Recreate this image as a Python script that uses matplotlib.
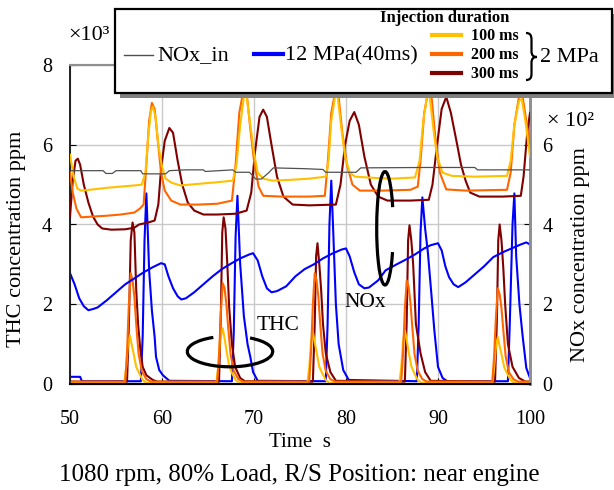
import matplotlib
matplotlib.use("Agg")
import matplotlib.pyplot as plt
from matplotlib.patches import Rectangle, Arc, PathPatch
from matplotlib.path import Path
from matplotlib.lines import Line2D

plt.rcParams['font.family'] = ['Liberation Serif', 'DejaVu Serif']

# ---------------- data ----------------
# NOx inlet (right axis, x10^2 ppm)
nox_in_t = [50, 53.6, 53.9, 54.6, 55.0, 57.7, 57.9, 60.4, 60.8, 62.6, 64.5, 64.7, 67.7, 68.0,
            69.5, 70.2, 70.8, 71.6, 72.1, 75.5, 77.5, 77.8, 81.1, 81.6, 88.5, 94.0, 94.3, 100]
nox_in_v = [5.35, 5.35, 5.28, 5.28, 5.35, 5.35, 5.27, 5.27, 5.35, 5.37, 5.37, 5.33, 5.37, 5.31,
            5.31, 5.14, 5.14, 5.30, 5.42, 5.40, 5.38, 5.31, 5.31, 5.42, 5.43, 5.43, 5.37, 5.37]

# NOx, 2 MPa 100 ms
nox100_t = [50.0, 50.4, 50.8, 51.2, 52.5, 54.0, 55.5, 57.0, 57.8, 58.2, 58.5, 58.8, 59.0, 59.3,
            59.6, 60.0, 60.4, 61.0, 62.0, 64.0, 66.0, 67.7, 68.1, 68.5, 68.9, 69.2, 69.6, 70.0,
            70.4, 71.0, 72.0, 74.0, 76.0, 77.8, 78.1, 78.4, 78.8, 79.1, 79.5, 79.9, 80.4, 81.0,
            83.0, 85.0, 87.5, 88.0, 88.4, 88.8, 89.1, 89.5, 89.9, 90.5, 91.5, 94.0, 97.5, 97.9,
            98.3, 98.8, 99.1, 99.5, 100.0]
nox100_v = [5.75, 5.2, 4.9, 4.85, 4.88, 4.92, 4.95, 4.98, 5.0, 5.3, 6.2, 6.85, 6.95, 6.7,
            6.0, 5.45, 5.15, 5.05, 4.98, 5.02, 5.06, 5.1, 5.5, 6.5, 7.2, 7.2, 6.5, 5.8,
            5.3, 5.15, 5.1, 5.12, 5.15, 5.2, 5.6, 6.6, 7.2, 7.2, 6.4, 5.7, 5.3, 5.2,
            5.17, 5.15, 5.18, 5.6, 6.6, 7.2, 7.2, 6.4, 5.7, 5.3, 5.22, 5.2, 5.22, 5.6,
            6.5, 7.1, 7.15, 6.6, 5.7]

# NOx, 2 MPa 200 ms
nox200_t = [50.0, 50.3, 50.7, 51.2, 52.5, 54.0, 55.5, 57.0, 57.6, 58.0, 58.3, 58.6, 58.9, 59.2,
            59.5, 59.9, 60.3, 61.0, 62.0, 64.0, 66.0, 67.6, 68.0, 68.4, 68.8, 69.2, 69.6, 70.0,
            70.5, 71.0, 73.0, 76.0, 77.7, 78.0, 78.4, 78.8, 79.2, 79.6, 80.1, 80.7, 81.5, 84.0,
            87.0, 87.8, 88.1, 88.5, 88.9, 89.3, 89.7, 90.2, 90.9, 93.0, 97.5, 97.9, 98.3, 98.8,
            99.2, 99.6, 100.0]
nox200_v = [5.3, 4.8, 4.4, 4.18, 4.2, 4.22, 4.25, 4.3, 4.4, 4.5, 5.5, 6.6, 7.05, 6.9,
            6.2, 5.3, 4.85, 4.6, 4.5, 4.5, 4.52, 4.6, 5.5, 6.8, 7.3, 7.3, 6.4, 5.6,
            4.95, 4.72, 4.7, 4.7, 4.72, 5.5, 6.8, 7.3, 7.2, 6.3, 5.5, 5.0, 4.85, 4.85,
            4.87, 4.95, 5.6, 6.8, 7.3, 7.2, 6.2, 5.3, 4.88, 4.85, 4.87, 5.3, 6.5, 7.2,
            7.2, 6.6, 5.9]

# NOx, 2 MPa 300 ms
nox300_t = [50.0, 50.3, 50.6, 50.85, 51.1, 51.5, 52.0, 52.5, 53.0, 53.5, 54.5, 56.0, 57.0, 57.5,
            58.5, 59.2, 59.6, 59.9, 60.3, 60.8, 61.2, 61.7, 62.2, 62.8, 63.5, 64.5, 66.0, 68.0,
            69.2, 69.7, 70.1, 70.6, 71.0, 71.4, 71.9, 72.5, 73.2, 74.2, 76.0, 78.9, 79.4, 79.9,
            80.4, 80.9, 81.4, 82.0, 82.7, 83.5, 84.5, 87.0, 89.0, 89.4, 89.9, 90.4, 90.9, 91.4,
            92.0, 92.5, 93.0, 93.5, 94.5, 97.0, 99.0, 99.3, 99.7, 100.0]
nox300_v = [4.2, 5.1, 5.6, 5.65, 5.5, 5.0, 4.55, 4.2, 4.0, 3.9, 3.87, 3.88, 3.92, 4.0,
            4.05, 4.1, 4.5, 5.4, 6.1, 6.42, 6.3, 5.6, 5.0, 4.55, 4.35, 4.25, 4.25, 4.27,
            4.35, 4.8, 5.8, 6.7, 6.88, 6.7, 6.0, 5.2, 4.7, 4.5, 4.48, 4.5, 5.0, 6.0,
            6.6, 6.82, 6.5, 5.7, 5.0, 4.7, 4.6, 4.6, 4.62, 5.0, 6.0, 6.9, 7.2, 6.8,
            6.1, 5.5, 5.1, 4.8, 4.7, 4.7, 4.72, 5.2, 6.3, 6.8]

# NOx, 12 MPa (40 ms)
nox12_t = [50.0, 50.5, 51.0, 51.5, 52.0, 52.5, 53.0, 54.0, 55.0, 56.0, 57.0, 58.0, 59.0, 59.9,
           60.3, 60.7, 61.2, 61.7, 62.1, 62.6, 63.5, 64.5, 65.5, 66.5, 67.5, 68.5, 69.5, 69.9,
           70.4, 70.9, 71.4, 71.9, 72.5, 73.5, 74.5, 75.5, 76.5, 77.5, 78.5, 79.5, 80.0, 80.4,
           80.9, 81.4, 82.0, 82.5, 83.5, 84.3, 85.5, 86.5, 87.5, 88.5, 89.2, 90.0, 90.4, 90.8,
           91.2, 91.7, 92.2, 93.0, 94.0, 95.0, 96.0, 97.0, 98.0, 99.0, 99.6, 100.0]
nox12_v = [2.78, 2.5, 2.15, 1.95, 1.85, 1.88, 1.92, 2.1, 2.3, 2.5, 2.65, 2.8, 2.93, 3.03,
           3.0, 2.7, 2.4, 2.2, 2.12, 2.15, 2.3, 2.5, 2.7, 2.88, 3.02, 3.15, 3.25, 3.28,
           3.1, 2.7, 2.4, 2.3, 2.33, 2.45, 2.7, 2.88, 3.0, 3.15, 3.27, 3.37, 3.4, 3.2,
           2.8, 2.5, 2.4, 2.42, 2.6, 2.85, 3.0, 3.12, 3.25, 3.4, 3.48, 3.53, 3.35, 2.95,
           2.68, 2.5, 2.43, 2.55, 2.75, 2.95, 3.18, 3.3, 3.4, 3.5, 3.55, 3.5]

# THC, 12 MPa (40 ms)  (left axis, x10^3 ppm)
thc12_t = [50.0, 51.1, 51.3, 57.7, 57.9, 58.1, 58.3, 58.45, 58.6, 58.9, 59.2, 59.35, 59.7, 60.1,
           60.8, 67.6, 67.8, 68.0, 68.2, 68.5, 68.9, 69.3, 69.6, 69.9, 70.4, 77.8, 78.0, 78.2,
           78.4, 78.6, 78.9, 79.2, 79.7, 80.3, 87.7, 87.9, 88.1, 88.3, 88.6, 88.9, 89.3, 89.6,
           90.0, 90.5, 91.0, 97.6, 97.8, 98.1, 98.3, 98.5, 98.85, 99.2, 99.6, 100.0]
thc12_v = [0.18, 0.18, 0.07, 0.07, 1.2, 3.6, 4.78, 3.85, 2.85, 1.85, 1.18, 0.68, 0.35, 0.22,
           0.08, 0.07, 1.3, 3.7, 4.72, 3.0, 1.7, 1.0, 0.68, 0.3, 0.08, 0.07, 1.5, 4.0,
           5.1, 3.9, 2.0, 1.0, 0.35, 0.1, 0.07, 1.5, 3.8, 4.68, 3.9, 3.3, 2.2, 1.35,
           0.43, 0.15, 0.07, 0.07, 1.5, 4.0, 4.78, 3.2, 2.0, 1.2, 0.4, 0.15]

# THC, 2 MPa 300 ms
thc300_t = [50.0, 56.2, 56.4, 56.6, 56.8, 57.0, 57.2, 57.4, 57.65, 57.9, 58.3, 59.0, 59.5, 66.2,
            66.4, 66.55, 66.7, 66.9, 67.1, 67.3, 67.6, 67.95, 68.5, 69.0, 76.4, 76.6, 76.75, 76.9,
            77.1, 77.3, 77.5, 77.8, 78.3, 78.9, 86.4, 86.6, 86.75, 86.9, 87.1, 87.3, 87.6, 88.1,
            88.6, 89.2, 96.2, 96.4, 96.55, 96.7, 96.9, 97.1, 97.3, 97.6, 98.1, 98.8, 99.5, 100.0]
thc300_v = [0.06, 0.06, 1.5, 3.6, 4.05, 3.8, 2.35, 1.5, 0.85, 0.43, 0.22, 0.1, 0.06, 0.06,
            1.8, 3.8, 4.18, 3.9, 3.0, 1.93, 1.0, 0.43, 0.15, 0.07, 0.06, 1.5, 3.2, 3.53,
            3.0, 2.35, 1.5, 0.77, 0.3, 0.08, 0.06, 1.6, 3.6, 3.98, 3.6, 3.0, 1.5, 0.77,
            0.3, 0.08, 0.06, 1.6, 3.6, 4.0, 3.6, 2.9, 2.0, 1.0, 0.43, 0.15, 0.06, 0.06]

# THC, 2 MPa 200 ms
thc200_t = [50.0, 56.0, 56.2, 56.4, 56.6, 56.8, 57.0, 57.2, 57.45, 57.8, 58.3, 58.8, 66.0, 66.2,
            66.4, 66.6, 66.8, 67.0, 67.2, 67.45, 67.8, 68.3, 68.8, 76.0, 76.2, 76.4, 76.6, 76.8,
            77.0, 77.2, 77.45, 77.8, 78.3, 78.8, 86.0, 86.2, 86.4, 86.6, 86.8, 87.0, 87.2, 87.45,
            87.8, 88.3, 88.8, 95.9, 96.1, 96.3, 96.5, 96.7, 96.9, 97.1, 97.35, 97.7, 98.2, 98.7,
            100.0]
thc200_v = [0.06, 0.06, 0.8, 2.0, 2.78, 2.6, 2.18, 1.5, 0.77, 0.33, 0.12, 0.06, 0.06, 0.7,
            1.8, 2.53, 2.4, 2.0, 1.4, 0.75, 0.33, 0.12, 0.06, 0.06, 0.8, 2.0, 2.78, 2.6,
            2.18, 1.5, 0.77, 0.33, 0.12, 0.06, 0.06, 0.75, 1.9, 2.6, 2.45, 2.05, 1.45, 0.75,
            0.33, 0.12, 0.06, 0.06, 0.7, 1.7, 2.4, 2.25, 1.9, 1.35, 0.7, 0.3, 0.12, 0.06,
            0.06]

# THC, 2 MPa 100 ms
thc100_t = [50.0, 55.9, 56.1, 56.3, 56.5, 56.7, 56.9, 57.2, 57.5, 57.9, 58.3, 65.9, 66.1, 66.3,
            66.6, 66.8, 67.0, 67.3, 67.6, 68.0, 68.4, 75.8, 76.0, 76.2, 76.4, 76.6, 76.8, 77.1,
            77.4, 77.8, 78.2, 85.8, 86.0, 86.2, 86.4, 86.6, 86.8, 87.1, 87.4, 87.8, 88.2, 95.9,
            96.1, 96.3, 96.5, 96.7, 96.9, 97.2, 97.5, 97.9, 98.3, 100.0]
thc100_v = [0.03, 0.03, 0.4, 1.0, 1.22, 1.0, 0.78, 0.43, 0.28, 0.1, 0.03, 0.03, 0.4, 1.1,
            1.4, 1.15, 0.85, 0.45, 0.28, 0.1, 0.03, 0.03, 0.4, 1.05, 1.3, 1.05, 0.8, 0.43,
            0.28, 0.1, 0.03, 0.03, 0.4, 1.05, 1.35, 1.1, 0.82, 0.45, 0.28, 0.1, 0.03, 0.03,
            0.4, 0.95, 1.18, 0.95, 0.75, 0.42, 0.27, 0.1, 0.03, 0.03]

x_ticks = [50, 60, 70, 80, 90, 100]
left_ticks = [0, 2, 4, 6, 8]
right_ticks = [0, 2, 4, 6]

C_GOLD = '#FFC000'
C_ORANGE = '#FF6600'
C_DRED = '#800000'
C_BLUE = '#0000FF'
C_GRAY = '#505050'

W, H = 614, 490
fig = plt.figure(figsize=(W / 100, H / 100), dpi=100)
L, R, T, B = 70, 530, 65, 384
ax = fig.add_axes([L / W, (H - B) / H, (R - L) / W, (B - T) / H])
ax2 = ax.twinx()

LW = 1.5
# THC curves (left axis)
ax.plot(thc12_t, thc12_v, color=C_BLUE, lw=LW, zorder=2)
ax.plot(thc300_t, thc300_v, color=C_DRED, lw=LW, zorder=3)
ax.plot(thc100_t, thc100_v, color=C_GOLD, lw=LW, zorder=4)
ax.plot(thc200_t, thc200_v, color=C_ORANGE, lw=LW, zorder=5)
# NOx curves (right axis)
ax2.plot(nox12_t, nox12_v, color=C_BLUE, lw=LW, zorder=2)
ax2.plot(nox300_t, nox300_v, color=C_DRED, lw=LW, zorder=3)
ax2.plot(nox200_t, nox200_v, color=C_ORANGE, lw=LW, zorder=4)
ax2.plot(nox100_t, nox100_v, color=C_GOLD, lw=LW, zorder=5)
ax2.plot(nox_in_t, nox_in_v, color=C_GRAY, lw=0.9, zorder=6)

ax.set_xlim(50, 100)
ax.set_ylim(0, 8)
ax2.set_ylim(0, 8)
ax.set_xticks(x_ticks)
ax.set_yticks(left_ticks)
ax2.set_yticks(right_ticks)
ax.grid(True, color='#C8C8C8', lw=1.0)
ax.set_axisbelow(True)

ax.tick_params(axis='both', direction='in', length=4, labelsize=14.5, colors='black')
ax.tick_params(axis='y', pad=13)
ax.tick_params(axis='x', pad=19)
ax2.tick_params(axis='y', direction='in', length=4, labelsize=14.5, pad=9)

for a in (ax, ax2):
    a.spines['left'].set_color('#202020')
    a.spines['left'].set_linewidth(1.2)
    a.spines['bottom'].set_color('black')
    a.spines['bottom'].set_linewidth(1.5)
    a.spines['right'].set_color('#909090')
    a.spines['right'].set_linewidth(2.0)
    a.spines['top'].set_color('#909090')
    a.spines['top'].set_linewidth(1.5)

# axis labels and caption
fig.text(17 / W, 1 - 239 / H, 'THC concentration ppm', rotation=90, ha='center', va='center', fontsize=16)
fig.text(580 / W, 1 - 255 / H, 'NOx concentration ppm', rotation=90, ha='center', va='center', fontsize=16)
fig.text(300 / W, 1 - 442 / H, 'Time  s', ha='center', va='center', fontsize=15)
fig.text(299 / W, 1 - 475 / H, '1080 rpm, 80% Load, R/S Position: near engine', ha='center', va='center', fontsize=18)
fig.text(68 / W, 1 - 36 / H, '×10³', ha='left', va='center', fontsize=16)
fig.text(547 / W, 1 - 122 / H, '× 10²', ha='left', va='center', fontsize=16)

# overlay in pixel coordinates for legend and annotations
ov = fig.add_axes([0, 0, 1, 1], zorder=10)
ov.set_xlim(0, W)
ov.set_ylim(0, H)
ov.axis('off')
ov.patch.set_alpha(0)

def fy(py):
    return H - py

# legend box with shadow
ov.add_patch(Rectangle((120, fy(98)), 500, 84, facecolor='#808080', edgecolor='none'))
ov.add_patch(Rectangle((115, fy(93)), 497, 84, facecolor='white', edgecolor='black', lw=1.6))

ov.add_line(Line2D([124, 153], [fy(55), fy(55)], color=C_GRAY, lw=1.0))
ov.text(157, fy(56), 'NOx_in', ha='left', va='center', fontsize=16)
ov.add_line(Line2D([254, 283], [fy(54), fy(54)], color=C_BLUE, lw=3))
ov.text(285, fy(56), '12 MPa(40ms)', ha='left', va='center', fontsize=16)
ov.text(445, fy(18), 'Injection duration', ha='center', va='center', fontsize=12, fontweight='bold')
for py, col, lab in [(35, C_GOLD, '100 ms'), (54, C_ORANGE, '200 ms'), (73, C_DRED, '300 ms')]:
    ov.add_line(Line2D([432, 461], [fy(py), fy(py)], color=col, lw=3))
    ov.text(471, fy(py + 1.5), lab, ha='left', va='center', fontsize=11.5, fontweight='bold')

brace = Path([(526, fy(33)), (530, fy(33)), (531.5, fy(35)), (531.5, fy(40)),
              (531.5, fy(51)),
              (531.5, fy(55)), (533, fy(57)), (537, fy(57)),
              (533, fy(57)), (531.5, fy(59)), (531.5, fy(63)),
              (531.5, fy(74)),
              (531.5, fy(78)), (530, fy(80)), (526, fy(80))],
             [Path.MOVETO, Path.CURVE4, Path.CURVE4, Path.CURVE4,
              Path.LINETO,
              Path.CURVE4, Path.CURVE4, Path.CURVE4,
              Path.CURVE4, Path.CURVE4, Path.CURVE4,
              Path.LINETO,
              Path.CURVE4, Path.CURVE4, Path.CURVE4])
ov.add_patch(PathPatch(brace, facecolor='none', edgecolor='black', lw=1.6))
ov.text(540, fy(58), '2 MPa', ha='left', va='center', fontsize=16)

# annotation rings
ov.add_patch(Arc((230, fy(351.5)), 85.4, 30.6, theta1=139.8, theta2=394, color='black', lw=2.3))
ov.add_patch(Arc((385, fy(228.3)), 16.6, 113.4, theta1=70, theta2=287.6, color='black', lw=2.3))
ov.text(278.5, fy(325), 'THC', ha='center', va='center', fontsize=15.5)
ov.text(365, fy(302.5), 'NOx', ha='center', va='center', fontsize=15.5)

fig.savefig('out.png', dpi=100)
